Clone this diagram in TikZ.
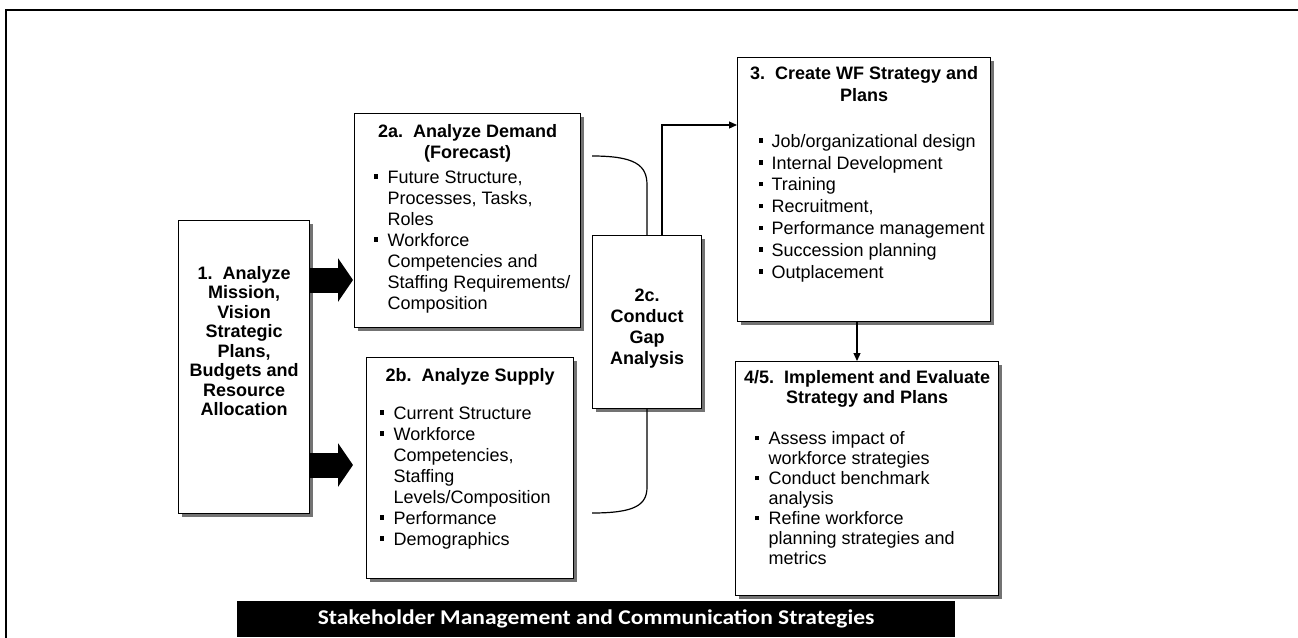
\documentclass[tikz,border=0pt]{standalone}
\usepackage{fontspec}
\setmainfont{Liberation Sans}
\newfontfamily\barfont{Carlito}
\usetikzlibrary{arrows.meta}
\usetikzlibrary{shadows}

% bullet item: #1 bullet indent, #2 text indent, #3 text
\newcommand{\wfitem}[3]{\par\hangindent=#2pt\hangafter=1\noindent\hspace*{#1pt}\makebox[\dimexpr#2pt-#1pt\relax][l]{\raisebox{4.5pt}{\rule{4.5pt}{4.5pt}}}{\let\\\newline#3}\par}
\newcommand{\wftitle}[1]{{\centering\bfseries #1\par}}

\tikzset{
  wfbox/.style={draw, line width=1.2pt, fill=white, inner sep=0pt, anchor=north west,
    drop shadow={shadow xshift=3pt, shadow yshift=-3pt, fill=black!55, opacity=1}},
  blockarrow/.style={line width=25pt, -{Triangle[length=15pt,width=43pt]}},
  flow/.style={line width=1.2pt, -{Triangle[length=8pt,width=7pt]}},
  link/.style={line width=1.2pt}
}

\begin{document}
\begin{tikzpicture}[x=1pt, y=-1pt, font=\fontsize{18}{21}\selectfont]

            \useasboundingbox (0,0) rectangle (1298,637);
            %\draw [help lines, step=50] (0,0) grid (1298,637);

            \draw [line width=2.5pt] (6,640) -- (6,10) -- (1300,10);

            \path   (178,220) node (mis) [wfbox] {\parbox[c][293pt][t]{131pt}{\centering\bfseries\fontsize{18}{19.5}\selectfont
                        \vspace*{45pt}\strut 1.\ \ Analyze\\Mission,\\Vision\\Strategic\\Plans,\\Budgets and\\Resource\\Allocation}}
                    (354,113) node (dem) [wfbox] {\parbox[c][214pt][t]{226pt}{\vspace*{9pt}
                        \wftitle{\strut 2a.\ \ Analyze Demand\\(Forecast)}\vspace{4pt}\raggedright
                        \wfitem{19}{33}{Future Structure,\\Processes, Tasks,\\Roles}
                        \wfitem{19}{33}{Workforce\\Competencies and\\Staffing Requirements/\\Composition}}}
                    (366,357) node (sup) [wfbox] {\parbox[c][221pt][t]{207pt}{\vspace*{9pt}
                        \wftitle{\strut 2b.\ \ Analyze Supply}\vspace{17pt}\raggedright
                        \wfitem{13}{27}{Current Structure}
                        \wfitem{13}{27}{Workforce\\Competencies,\\Staffing\\Levels/Composition}
                        \wfitem{13}{27}{Performance}
                        \wfitem{13}{27}{Demographics}}}
                    (592,235) node (gap) [wfbox] {\parbox[c][173pt][t]{109pt}{\centering\bfseries
                        \vspace*{51pt}\strut 2c.\\Conduct\\Gap\\Analysis}}
                    (737,57) node (strat) [wfbox] {\parbox[c][264pt][t]{253pt}{\fontsize{18}{21.8}\selectfont\vspace*{6.5pt}
                        \wftitle{\strut 3.\ \ Create WF Strategy and\\Plans}\vspace{24.4pt}\raggedright
                        \wfitem{21}{34}{Job/organizational design}
                        \wfitem{21}{34}{Internal Development}
                        \wfitem{21}{34}{Training}
                        \wfitem{21}{34}{Recruitment,}
                        \wfitem{21}{34}{Performance management}
                        \wfitem{21}{34}{Succession planning}
                        \wfitem{21}{34}{Outplacement}}}
                    (735,361) node (impl) [wfbox] {\parbox[c][234pt][t]{263pt}{\fontsize{18}{20}\selectfont\vspace*{8pt}
                        \wftitle{\strut 4/5.\ \ Implement and Evaluate\\Strategy and Plans}\vspace{21pt}\raggedright
                        \wfitem{19}{33}{Assess impact of\\workforce strategies}
                        \wfitem{19}{33}{Conduct benchmark\\analysis}
                        \wfitem{19}{33}{Refine workforce\\planning strategies and\\metrics}}}
                    (237,601) node (bar) [fill=black, anchor=north west, inner sep=0pt, minimum width=718pt, minimum height=36pt,
                        text=white, font=\barfont\bfseries\fontsize{21}{24}\selectfont] {\scalebox{1.12}[1]{Stakeholder Management and Communication Strategies}};

            \coordinate (dtop) at (592,156);
            \coordinate (dbot) at (592,513);
            \coordinate (turn) at (662,125);
            \coordinate (down) at (857,0);

            \draw [blockarrow, shorten >=1pt] (mis.east |- 0,280) -- (dem.west |- 0,280);
            \draw [blockarrow, shorten >=1pt] (mis.east |- 0,465) -- (dem.west |- 0,465);

            \draw [link] (dtop) .. controls (635,156) and (647,165) .. (647,185) -- (gap.north -| 647,0);
            \draw [link] (gap.south -| 647,0) -- (647,487) .. controls (647,505) and (635,513) .. (dbot);

            \draw [flow] (gap.north -| turn) |- (strat.west |- turn);
            \draw [flow] (strat.south -| down) -- (impl.north -| down);

\end{tikzpicture}
\end{document}
